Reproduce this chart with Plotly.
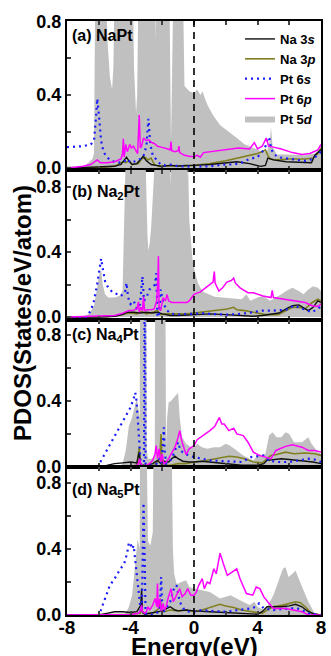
import plotly.graph_objects as go
from plotly.subplots import make_subplots

# ---------------- data (Energy in eV, PDOS in states/eV/atom) ----------------
# values above the visible range are off-scale peaks (clipped by the axis)
# Panel (a) NaPt
a_5d_e = [-8, -6.9, -6.4, -6.3, -6.22, -5.55, -5.45, -5.3, -5.16, -5.08, -5.0, -3.85, -3.78, -3.72, -3.65, -3.58, -3.5, -2.48, -2.44, -2.4, -1.55, -1.5, -1.45, -1.4, -1.3, -0.7, -0.6, -0.3, 0.0, 0.2, 0.4, 0.55, 0.65, 0.85, 1.2, 1.65, 2.2, 2.7, 3.2, 3.75, 4.3, 4.6, 4.78, 4.85, 4.95, 5.2, 6.0, 7.0, 7.6, 7.85, 8.0]
a_5d_v = [0.01, 0.01, 0.05, 0.08, 1.0, 1.0, 0.7, 0.5, 0.43, 0.55, 1.0, 1.0, 0.55, 0.38, 0.30, 0.4, 1.0, 1.0, 0.7, 1.0, 1.0, 0.4, 0.15, 0.4, 1.0, 1.0, 0.45, 0.42, 0.41, 0.43, 0.40, 0.42, 0.39, 0.345, 0.29, 0.235, 0.2, 0.165, 0.13, 0.11, 0.09, 0.09, 0.15, 0.225, 0.12, 0.075, 0.075, 0.07, 0.08, 0.1, 0.12]
a_6s_e = [-8, -7.0, -6.5, -6.3, -6.2, -6.09, -6.0, -5.85, -5.7, -5.5, -5.2, -4.8, -4.4, -4.2, -4.0, -3.6, -3.2, -3.0, -2.87, -2.75, -2.6, -2.4, -2.1, -1.8, -1.4, -1.0, -0.5, 0, 0.5, 1.0, 1.5, 2.0, 2.5, 3.0, 3.5, 4.0, 4.3, 4.5, 4.68, 4.75, 4.85, 5.0, 5.3, 6.0, 6.5, 7.0, 7.5, 8.0]
a_6s_v = [0.115, 0.12, 0.13, 0.15, 0.25, 0.38, 0.30, 0.15, 0.09, 0.06, 0.04, 0.03, 0.035, 0.05, 0.03, 0.04, 0.06, 0.12, 0.27, 0.13, 0.07, 0.05, 0.02, 0.015, 0.02, 0.01, 0.01, 0.005, 0.01, 0.01, 0.015, 0.02, 0.02, 0.03, 0.05, 0.06, 0.09, 0.12, 0.17, 0.16, 0.11, 0.08, 0.06, 0.05, 0.045, 0.04, 0.05, 0.09]
a_6p_e = [-8, -7.0, -6.5, -6.25, -6.1, -5.9, -5.5, -5.0, -4.6, -4.5, -4.45, -4.4, -4.3, -4.2, -4.05, -3.95, -3.82, -3.55, -3.45, -3.38, -3.3, -3.18, -3.0, -2.85, -2.67, -2.5, -2.3, -2.07, -1.8, -1.64, -1.5, -1.45, -1.4, -1.2, -1.0, -0.95, -0.9, -0.6, -0.3, 0, 0.2, 0.4, 0.6, 1.5, 2.27, 2.8, 3.5, 3.8, 4.0, 4.3, 4.55, 4.7, 5.0, 5.5, 6.2, 6.8, 7.3, 7.8, 8.0]
a_6p_v = [0.0, 0.01, 0.02, 0.035, 0.045, 0.03, 0.03, 0.035, 0.05, 0.08, 0.16, 0.06, 0.13, 0.09, 0.13, 0.11, 0.12, 0.08, 0.29, 0.11, 0.12, 0.165, 0.15, 0.155, 0.14, 0.135, 0.12, 0.115, 0.11, 0.105, 0.10, 0.145, 0.095, 0.09, 0.095, 0.12, 0.085, 0.07, 0.065, 0.062, 0.07, 0.06, 0.085, 0.095, 0.1, 0.11, 0.105, 0.14, 0.105, 0.12, 0.165, 0.12, 0.115, 0.105, 0.085, 0.075, 0.08, 0.1, 0.13]
a_3s_e = [-8, -6.5, -5.0, -4.6, -4.4, -4.25, -4.1, -3.9, -3.6, -3.4, -3.2, -3.0, -2.7, -2.4, -2.0, -1.5, -1.0, -0.5, 0, 1.0, 2.0, 2.7, 3.5, 4.2, 4.5, 4.65, 5.0, 5.8, 7.4, 7.6, 8.0]
a_3s_v = [0.0, 0.005, 0.01, 0.02, 0.045, 0.06, 0.04, 0.02, 0.025, 0.045, 0.065, 0.04, 0.02, 0.015, 0.01, 0.015, 0.012, 0.015, 0.015, 0.02, 0.03, 0.035, 0.025, 0.01, 0.015, 0.055, 0.045, 0.035, 0.03, 0.07, 0.1]
a_3p_e = [-8, -6, -5.0, -4.7, -4.5, -4.3, -4.1, -3.9, -3.5, -3.3, -3.1, -2.9, -2.7, -2.5, -2.2, -1.8, -1.4, -1.0, -0.5, 0, 1.0, 2.0, 2.8, 3.5, 4.0, 4.3, 4.5, 4.65, 4.8, 5.2, 6.0, 7.0, 7.5, 7.8, 8.0]
a_3p_v = [0, 0.003, 0.01, 0.025, 0.035, 0.03, 0.04, 0.02, 0.025, 0.05, 0.06, 0.045, 0.055, 0.02, 0.01, 0.012, 0.01, 0.012, 0.01, 0.015, 0.025, 0.04, 0.055, 0.07, 0.08, 0.09, 0.1, 0.07, 0.05, 0.045, 0.05, 0.05, 0.055, 0.08, 0.11]

# Panel (b) Na2Pt
b_5d_e = [-8, -7.0, -6.6, -6.3, -6.1, -5.95, -5.85, -5.75, -5.6, -5.4, -5.0, -4.7, -4.5, -4.4, -4.3, -3.06, -3.0, -2.93, -2.87, -2.8, -2.7, -2.55, -2.45, -1.5, -1.47, -1.43, -0.45, -0.42, -0.38, -0.3, -0.2, -0.1, 0.0, 0.1, 0.25, 0.4, 0.6, 0.9, 1.3, 1.8, 2.5, 3.0, 3.3, 3.55, 4.0, 4.35, 4.8, 5.2, 5.5, 5.8, 6.2, 6.6, 6.9, 7.2, 7.5, 7.8, 8.0]
b_5d_v = [0, 0, 0.02, 0.07, 0.18, 0.27, 0.29, 0.2, 0.14, 0.12, 0.12, 0.13, 0.16, 0.5, 1.0, 1.0, 0.7, 0.5, 0.41, 0.45, 0.55, 0.75, 1.0, 1.0, 0.8, 1.0, 1.0, 0.85, 1.0, 0.6, 0.45, 0.36, 0.31, 0.26, 0.21, 0.18, 0.155, 0.14, 0.125, 0.12, 0.115, 0.11, 0.14, 0.1, 0.12, 0.13, 0.1, 0.12, 0.14, 0.16, 0.18, 0.16, 0.14, 0.17, 0.19, 0.18, 0.16]
b_6s_e = [-8, -6.8, -6.5, -6.3, -6.1, -5.95, -5.85, -5.75, -5.6, -5.4, -5.1, -4.8, -4.6, -4.35, -4.25, -4.15, -4.0, -3.8, -3.6, -3.4, -3.25, -3.15, -3.0, -2.8, -2.6, -2.45, -2.38, -2.3, -2.2, -2.1, -1.95, -1.7, -1.4, -1.0, -0.5, 0, 0.5, 1.0, 2.0, 3.0, 3.7, 4.3, 5.0, 5.8, 6.3, 6.6, 7.0, 7.45, 8.0]
b_6s_v = [0, 0, 0.04, 0.1, 0.2, 0.3, 0.36, 0.3, 0.22, 0.18, 0.15, 0.14, 0.13, 0.15, 0.21, 0.12, 0.08, 0.1, 0.05, 0.08, 0.25, 0.1, 0.12, 0.17, 0.19, 0.2, 0.27, 0.0, 0.02, 0.17, 0.09, 0.04, 0.02, 0.015, 0.02, 0.02, 0.025, 0.02, 0.015, 0.02, 0.03, 0.04, 0.04, 0.045, 0.07, 0.06, 0.045, 0.03, 0.065]
b_6p_e = [-8, -7.0, -6.0, -5.0, -4.6, -4.3, -4.1, -3.9, -3.6, -3.5, -3.45, -3.35, -3.25, -3.18, -3.12, -3.0, -2.7, -2.5, -2.35, -2.28, -2.24, -2.2, -2.1, -1.95, -1.8, -1.7, -1.6, -1.4, -1.0, -0.7, -0.45, -0.3, 0, 0.4, 0.83, 1.2, 1.28, 1.33, 1.57, 1.8, 2.07, 2.35, 2.5, 2.6, 2.9, 3.4, 3.74, 4.35, 4.85, 4.93, 5.0, 5.6, 6.4, 7.0, 7.45, 7.8, 8.0]
b_6p_v = [0, 0.002, 0.004, 0.01, 0.02, 0.035, 0.04, 0.04, 0.05, 0.094, 0.03, 0.06, 0.04, 0.125, 0.04, 0.045, 0.045, 0.05, 0.1, 0.23, 0.375, 0.05, 0.04, 0.12, 0.1, 0.14, 0.1, 0.09, 0.09, 0.09, 0.09, 0.1, 0.14, 0.155, 0.185, 0.215, 0.28, 0.21, 0.16, 0.18, 0.215, 0.225, 0.24, 0.21, 0.18, 0.15, 0.15, 0.13, 0.12, 0.165, 0.12, 0.11, 0.1, 0.09, 0.07, 0.065, 0.08]
b_3s_e = [-8, -6.0, -5.0, -4.5, -4.2, -3.8, -3.4, -3.0, -2.6, -2.3, -2.0, -1.5, -1.0, 0, 1.0, 2.0, 3.0, 3.7, 4.3, 5.0, 5.35, 5.8, 6.2, 6.6, 6.9, 7.2, 7.5, 7.8, 8.0]
b_3s_v = [0, 0, 0.005, 0.015, 0.03, 0.03, 0.025, 0.03, 0.025, 0.03, 0.02, 0.01, 0.01, 0.015, 0.02, 0.015, 0.01, 0.005, 0.01, 0.02, 0.025, 0.05, 0.07, 0.075, 0.06, 0.04, 0.06, 0.1, 0.09]
b_3p_e = [-8, -5.5, -4.8, -4.4, -4.0, -3.6, -3.3, -3.0, -2.6, -2.3, -2.1, -1.8, -1.2, -0.5, 0, 0.8, 1.6, 2.1, 2.5, 2.7, 3.2, 3.8, 4.5, 5.3, 5.8, 6.2, 6.6, 7.0, 7.45, 7.8, 8.0]
b_3p_v = [0, 0.002, 0.01, 0.02, 0.025, 0.02, 0.035, 0.02, 0.03, 0.04, 0.015, 0.02, 0.02, 0.02, 0.025, 0.035, 0.045, 0.05, 0.06, 0.045, 0.04, 0.03, 0.015, 0.015, 0.04, 0.06, 0.06, 0.05, 0.09, 0.11, 0.1]

# Panel (c) Na4Pt
c_5d_e = [-8, -4.7, -4.5, -4.3, -4.1, -3.9, -3.7, -3.6, -3.5, -3.42, -3.4, -3.0, -2.97, -2.9, -2.7, -2.5, -2.47, -2.45, -1.8, -1.76, -1.7, -1.6, -1.45, -1.2, -1.0, -0.9, -0.75, -0.5, -0.2, 0, 0.2, 0.5, 0.83, 1.26, 1.64, 2.0, 2.25, 2.69, 3.1, 3.5, 3.75, 4.1, 4.3, 4.5, 4.73, 4.95, 5.2, 5.5, 5.77, 6.0, 6.3, 6.8, 7.2, 7.4, 7.8, 8.0]
c_5d_v = [0, 0, 0.02, 0.1, 0.25, 0.3, 0.38, 0.42, 0.35, 0.3, 1.0, 1.0, 0.1, 0.05, 0.05, 0.06, 0.1, 1.0, 1.0, 0.12, 0.29, 0.39, 0.4, 0.43, 0.45, 0.3, 0.18, 0.14, 0.12, 0.12, 0.14, 0.12, 0.11, 0.12, 0.12, 0.14, 0.13, 0.1, 0.07, 0.05, 0.04, 0.08, 0.07, 0.08, 0.19, 0.21, 0.18, 0.18, 0.21, 0.2, 0.15, 0.15, 0.18, 0.14, 0.09, 0.08]
c_6s_e = [-8, -6.1, -5.9, -5.5, -5.0, -4.5, -4.0, -3.75, -3.7, -3.62, -3.55, -3.48, -3.42, -3.35, -3.15, -3.1, -3.05, -2.95, -2.6, -2.35, -2.2, -2.05, -1.95, -1.9, -1.85, -1.75, -1.6, -1.4, -1.2, -1.0, -0.85, -0.6, -0.3, 0, 0.5, 1.0, 2.0, 3.0, 3.6, 4.0, 4.35, 4.7, 5.2, 6.0, 6.5, 7.2, 7.6, 8.0]
c_6s_v = [0, 0, 0.03, 0.1, 0.18, 0.27, 0.36, 0.43, 0.45, 0.4, 0.3, 0.15, 0.05, 0.01, 0.02, 1.5, 0.02, 0.01, 0.01, 0.02, 0.05, 0.02, 0.15, 0.24, 0.1, 0.02, 0.03, 0.05, 0.1, 0.15, 0.1, 0.08, 0.07, 0.06, 0.05, 0.04, 0.035, 0.03, 0.06, 0.065, 0.07, 0.04, 0.03, 0.03, 0.04, 0.05, 0.045, 0.03]
c_6p_e = [-8, -4.5, -4.0, -3.6, -3.5, -3.43, -3.35, -3.2, -3.0, -2.8, -2.6, -2.45, -2.38, -2.3, -2.2, -2.1, -2.0, -1.9, -1.75, -1.6, -1.45, -1.2, -1.0, -0.9, -0.75, -0.5, -0.3, 0, 0.2, 0.6, 1.0, 1.3, 1.6, 1.75, 1.9, 2.2, 2.5, 2.7, 3.1, 3.4, 3.74, 4.1, 4.5, 4.85, 5.16, 5.77, 6.2, 6.8, 7.2, 7.6, 8.0]
c_6p_v = [0, 0, 0.003, 0.01, 0.02, 0.05, 0.02, 0.005, 0.01, 0.02, 0.04, 0.08, 0.13, 0.05, 0.11, 0.03, 0.08, 0.02, 0.03, 0.05, 0.08, 0.12, 0.18, 0.22, 0.15, 0.075, 0.11, 0.13, 0.165, 0.19, 0.22, 0.245, 0.3, 0.26, 0.26, 0.22, 0.235, 0.2, 0.19, 0.15, 0.09, 0.07, 0.06, 0.05, 0.1, 0.125, 0.135, 0.12, 0.1, 0.1, 0.09]
c_3s_e = [-8, -6.1, -5.5, -5.0, -4.5, -4.0, -3.6, -3.45, -3.4, -3.3, -3.0, -2.6, -2.3, -2.1, -1.9, -1.6, -1.4, -1.2, -1.0, -0.7, -0.3, 0, 0.5, 1.0, 2.0, 3.0, 4.0, 4.4, 4.6, 5.0, 5.5, 6.0, 6.5, 7.0, 7.5, 8.0]
c_3s_v = [0, 0, 0.01, 0.02, 0.025, 0.03, 0.025, 0.09, 0.03, 0.01, 0.01, 0.02, 0.04, 0.02, 0.035, 0.03, 0.05, 0.065, 0.05, 0.035, 0.03, 0.03, 0.035, 0.03, 0.02, 0.01, 0.01, 0.02, 0.04, 0.045, 0.05, 0.045, 0.04, 0.035, 0.03, 0.02]
c_3p_e = [-8, -5.0, -4.0, -3.6, -3.45, -3.38, -3.3, -3.0, -2.5, -2.15, -2.08, -2.0, -1.8, -1.5, -1.0, -0.5, 0, 0.5, 1.0, 1.64, 2.2, 2.7, 3.2, 3.74, 4.3, 4.85, 5.2, 5.77, 6.3, 7.0, 7.6, 8.0]
c_3p_v = [0, 0.002, 0.005, 0.01, 0.12, 0.02, 0.01, 0.005, 0.01, 0.05, 0.2, 0.03, 0.01, 0.01, 0.02, 0.02, 0.03, 0.035, 0.045, 0.055, 0.065, 0.06, 0.05, 0.03, 0.025, 0.07, 0.075, 0.09, 0.08, 0.085, 0.08, 0.07]

# Panel (d) Na5Pt
d_5d_e = [-8, -4.5, -4.3, -4.1, -3.9, -3.8, -3.65, -3.55, -3.42, -3.4, -2.98, -2.9, -2.75, -2.6, -2.55, -1.4, -1.33, -1.25, -1.1, -1.0, -0.8, -0.5, -0.3, 0, 0.5, 1.0, 1.64, 2.3, 2.9, 3.5, 3.8, 4.0, 4.4, 4.6, 5.0, 5.35, 5.6, 5.77, 5.95, 6.2, 6.4, 6.6, 6.9, 7.2, 7.6, 8.0]
d_5d_v = [0, 0, 0.01, 0.05, 0.12, 0.23, 0.35, 0.46, 0.4, 1.0, 1.0, 0.45, 0.42, 0.5, 1.0, 1.0, 0.4, 0.25, 0.19, 0.19, 0.2, 0.21, 0.17, 0.16, 0.15, 0.14, 0.1, 0.12, 0.09, 0.06, 0.08, 0.05, 0.03, 0.05, 0.12, 0.22, 0.28, 0.29, 0.23, 0.25, 0.27, 0.22, 0.15, 0.08, 0.01, 0]
d_6s_e = [-8, -6.0, -5.9, -5.6, -5.3, -5.0, -4.7, -4.4, -4.2, -4.1, -4.0, -3.9, -3.8, -3.7, -3.55, -3.45, -3.35, -3.28, -3.22, -3.18, -3.12, -3.05, -2.8, -2.5, -2.2, -2.12, -2.07, -2.0, -1.9, -1.7, -1.5, -1.3, -1.1, -0.9, -0.6, -0.3, 0, 0.5, 1.0, 2.0, 3.0, 3.6, 3.9, 4.1, 4.4, 5.0, 5.5, 6.0, 6.5, 6.8, 7.2, 8.0]
d_6s_v = [0, 0, 0.02, 0.1, 0.18, 0.22, 0.27, 0.31, 0.38, 0.44, 0.43, 0.4, 0.42, 0.33, 0.2, 0.08, 0.02, 0.05, 0.55, 0.68, 0.4, 0.01, 0.0, 0.005, 0.02, 0.1, 0.23, 0.05, 0.02, 0.05, 0.08, 0.15, 0.18, 0.08, 0.03, 0.02, 0.02, 0.03, 0.025, 0.02, 0.03, 0.04, 0.05, 0.07, 0.04, 0.03, 0.035, 0.04, 0.04, 0.03, 0.01, 0.0]
d_6p_e = [-8, -4.5, -4.0, -3.5, -3.35, -3.3, -3.25, -3.1, -3.0, -2.9, -2.8, -2.6, -2.45, -2.35, -2.3, -2.25, -2.15, -2.05, -1.95, -1.85, -1.75, -1.64, -1.45, -1.3, -1.1, -0.9, -0.75, -0.55, -0.4, -0.2, 0, 0.15, 0.3, 0.52, 0.65, 0.83, 1.0, 1.25, 1.4, 1.64, 1.85, 2.1, 2.4, 2.69, 2.9, 3.3, 3.7, 3.92, 4.15, 4.4, 4.73, 5.0, 5.77, 6.4, 6.8, 7.2, 8.0]
d_6p_v = [0, 0, 0.003, 0.01, 0.03, 0.06, 0.02, 0.01, 0.02, 0.05, 0.03, 0.06, 0.1, 0.05, 0.19, 0.04, 0.1, 0.02, 0.07, 0.03, 0.05, 0.1, 0.16, 0.08, 0.12, 0.16, 0.11, 0.13, 0.16, 0.12, 0.12, 0.14, 0.18, 0.22, 0.16, 0.2, 0.19, 0.28, 0.25, 0.375, 0.31, 0.24, 0.26, 0.28, 0.22, 0.13, 0.12, 0.17, 0.16, 0.11, 0.07, 0.04, 0.04, 0.03, 0.02, 0.0, 0.0]
d_3s_e = [-8, -6.0, -5.5, -5.0, -4.5, -4.0, -3.6, -3.35, -3.3, -3.25, -3.1, -2.8, -2.4, -2.0, -1.7, -1.5, -1.2, -1.0, -0.5, 0, 1.0, 2.0, 3.0, 4.0, 4.3, 4.6, 5.0, 5.5, 6.0, 6.4, 6.8, 7.2, 7.6, 8.0]
d_3s_v = [0, 0, 0.01, 0.02, 0.02, 0.015, 0.02, 0.06, 0.16, 0.02, 0.005, 0.01, 0.02, 0.025, 0.04, 0.05, 0.03, 0.025, 0.03, 0.025, 0.02, 0.015, 0.01, 0.005, 0.02, 0.05, 0.05, 0.05, 0.055, 0.065, 0.05, 0.02, 0.005, 0]
d_3p_e = [-8, -5.0, -4.0, -3.4, -3.3, -3.2, -2.6, -2.2, -2.12, -2.05, -1.9, -1.5, -1.0, -0.5, 0, 0.5, 1.25, 1.64, 2.0, 2.5, 3.0, 3.9, 4.3, 4.6, 5.0, 5.6, 6.0, 6.4, 6.7, 7.0, 7.4, 8.0]
d_3p_v = [0, 0.003, 0.005, 0.01, 0.03, 0.01, 0.01, 0.04, 0.1, 0.03, 0.02, 0.03, 0.025, 0.03, 0.02, 0.03, 0.05, 0.065, 0.055, 0.045, 0.03, 0.015, 0.01, 0.03, 0.05, 0.06, 0.07, 0.08, 0.075, 0.05, 0.01, 0]

panel_labels = ["(a) NaPt", "(b) Na<sub>2</sub>Pt", "(c) Na<sub>4</sub>Pt", "(d) Na<sub>5</sub>Pt"]
series_names = ["Na 3<i>s</i>", "Na 3<i>p</i>", "Pt 6<i>s</i>", "Pt 6<i>p</i>", "Pt 5<i>d</i>"]
x_ticks = [-8, -6, -4, -2, 0, 2, 4, 6, 8]
x_ticktext = ["-8", " ", "-4", " ", "0", " ", "4", " ", "8"]
y_ticks = [0.0, 0.2, 0.4, 0.6, 0.8]
y_ticktext = ["0.0", " ", "0.4", " ", "0.8"]

panels = [
    dict(d=(a_5d_e, a_5d_v), s3=(a_3s_e, a_3s_v), p3=(a_3p_e, a_3p_v), s6=(a_6s_e, a_6s_v), p6=(a_6p_e, a_6p_v)),
    dict(d=(b_5d_e, b_5d_v), s3=(b_3s_e, b_3s_v), p3=(b_3p_e, b_3p_v), s6=(b_6s_e, b_6s_v), p6=(b_6p_e, b_6p_v)),
    dict(d=(c_5d_e, c_5d_v), s3=(c_3s_e, c_3s_v), p3=(c_3p_e, c_3p_v), s6=(c_6s_e, c_6s_v), p6=(c_6p_e, c_6p_v)),
    dict(d=(d_5d_e, d_5d_v), s3=(d_3s_e, d_3s_v), p3=(d_3p_e, d_3p_v), s6=(d_6s_e, d_6s_v), p6=(d_6p_e, d_6p_v)),
]
y_ranges = [[-0.01, 0.805], [-0.018, 0.905], [0.0, 0.89], [0.0, 0.897]]
y_domains = [[0.7492, 1.0], [0.4966, 0.7492], [0.2492, 0.4966], [0.0, 0.2492]]
label_y = [0.976, 0.712, 0.471, 0.2104]

FONT = "Liberation Sans, Arial, sans-serif"
C_3S, C_3P, C_6S, C_6P, C_5D = "#111111", "#808020", "#1a1aff", "#ff00ff", "#c0c0c0"

fig = make_subplots(rows=4, cols=1, shared_xaxes=True, vertical_spacing=0)

for i, p in enumerate(panels):
    row = i + 1
    show = (i == 0)
    for k in p:
        assert len(p[k][0]) == len(p[k][1]), (i, k)
    fig.add_trace(go.Scatter(x=p["d"][0], y=p["d"][1], name=series_names[4], mode="lines",
                             line=dict(width=0, color=C_5D), fill="tozeroy", fillcolor=C_5D,
                             showlegend=show, legendrank=5), row=row, col=1)
    fig.add_trace(go.Scatter(x=p["p3"][0], y=p["p3"][1], name=series_names[1], mode="lines",
                             line=dict(width=1.6, color=C_3P), showlegend=show, legendrank=2), row=row, col=1)
    fig.add_trace(go.Scatter(x=p["s3"][0], y=p["s3"][1], name=series_names[0], mode="lines",
                             line=dict(width=1.4, color=C_3S), showlegend=show, legendrank=1), row=row, col=1)
    fig.add_trace(go.Scatter(x=p["s6"][0], y=p["s6"][1], name=series_names[2], mode="lines",
                             line=dict(width=2.2, color=C_6S, dash="2px,4px"), showlegend=show, legendrank=3), row=row, col=1)
    fig.add_trace(go.Scatter(x=p["p6"][0], y=p["p6"][1], name=series_names[3], mode="lines",
                             line=dict(width=1.5, color=C_6P), showlegend=show, legendrank=4), row=row, col=1)

    yname = "yaxis" if i == 0 else f"yaxis{row}"
    fig.layout[yname].update(domain=y_domains[i], range=y_ranges[i], tickvals=y_ticks, ticktext=y_ticktext,
                             ticks="inside", ticklen=4, tickwidth=1.5, showline=True, linewidth=2,
                             linecolor="black", mirror=True, zeroline=False, showgrid=False,
                             tickfont=dict(family=FONT, size=18, color="black", weight="bold"))
    xname = "xaxis" if i == 0 else f"xaxis{row}"
    fig.layout[xname].update(range=[-8, 8], tickvals=x_ticks, ticktext=x_ticktext, ticks="inside",
                             ticklen=4, tickwidth=1.5, showline=True, linewidth=2, linecolor="black",
                             mirror="ticks", zeroline=False, showgrid=False,
                             tickfont=dict(family=FONT, size=19, color="black", weight="bold"))
    fig.add_annotation(text=panel_labels[i], xref="paper", yref="paper", x=0.012, y=label_y[i],
                       xanchor="left", yanchor="middle", showarrow=False,
                       font=dict(family=FONT, size=16, color="black", weight="bold"))

fig.update_xaxes(showticklabels=False)
fig.layout.xaxis4.showticklabels = True
fig.layout.xaxis4.ticklabelstandoff = -6

fig.add_shape(type="line", xref="x", yref="paper", x0=0, x1=0, y0=0, y1=1,
              line=dict(color="black", width=1.6, dash="7px,5px"), layer="above")

fig.add_annotation(text="PDOS(States/eV/atom)", xref="paper", yref="paper", x=-0.178, y=0.508,
                   textangle=-90, showarrow=False, xanchor="center", yanchor="middle",
                   font=dict(family=FONT, size=24, color="black", weight="bold"))
fig.add_annotation(text="Energy(eV)", xref="paper", yref="paper", x=0.5, y=-0.053,
                   showarrow=False, xanchor="center", yanchor="middle",
                   font=dict(family=FONT, size=24, color="black", weight="bold"))

fig.update_layout(
    width=331, height=656,
    margin=dict(l=67, r=5, t=21, b=41),
    plot_bgcolor="white", paper_bgcolor="white",
    font=dict(family=FONT, color="black"),
    legend=dict(x=1.0, y=0.995, xanchor="right", yanchor="top", bgcolor="rgba(0,0,0,0)",
                font=dict(family=FONT, size=13, color="black", weight="bold"),
                tracegroupgap=0, itemwidth=30),
)

fig.write_html("out.html", config={"displayModeBar": False},
               post_script="document.body.style.margin='0px';document.body.style.overflow='hidden';")
